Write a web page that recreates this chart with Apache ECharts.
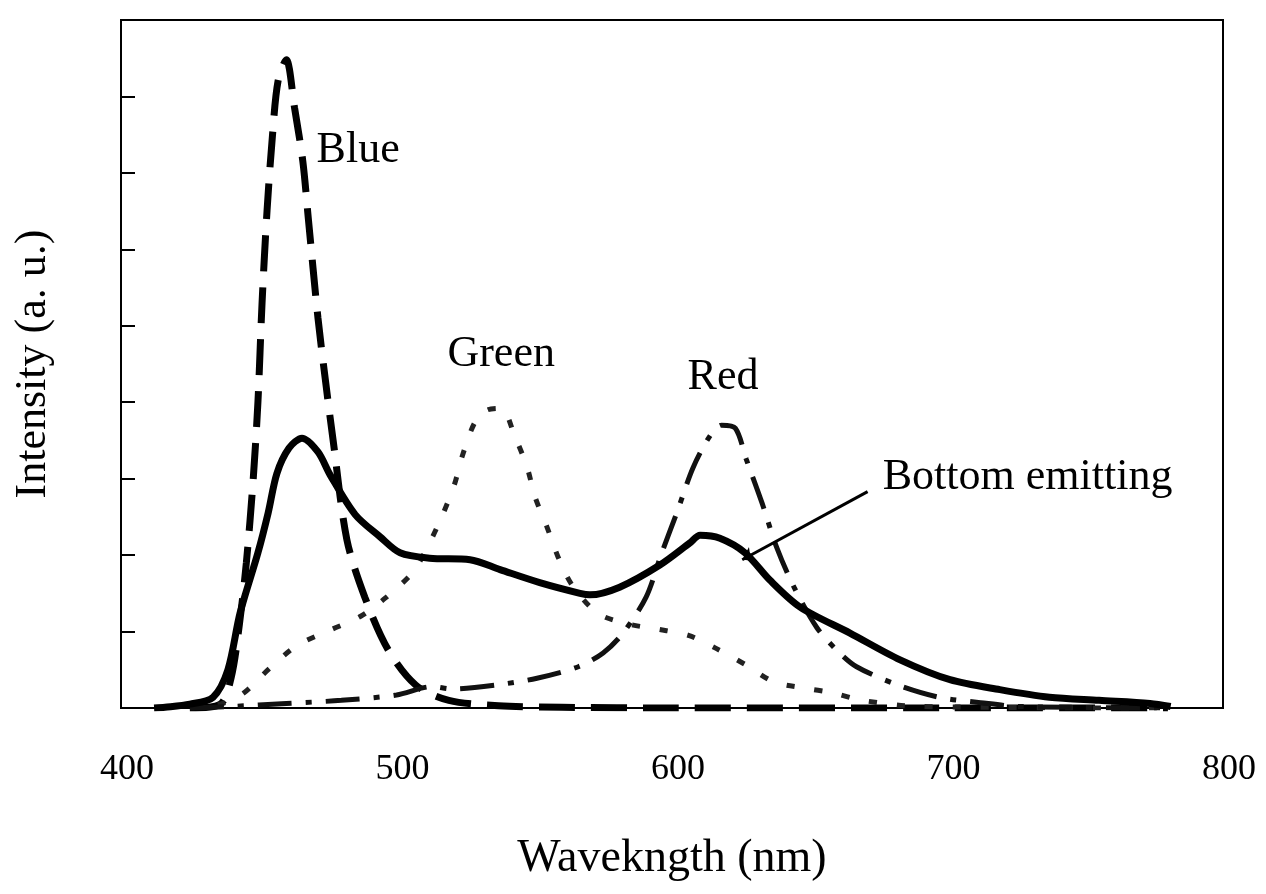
<!DOCTYPE html>
<html>
<head>
<meta charset="utf-8">
<script src="https://cdn.jsdelivr.net/npm/echarts@6/dist/echarts.min.js"></script>
<style>
  html, body { margin: 0; padding: 0; background: #fff; }
  #chart { width: 1266px; height: 894px; }
</style>
</head>
<body>
<div id="chart"></div>
<script>
// wavelength (nm) and intensity (a.u., one unit per y tick)
const blueWl = [425, 436, 440, 443, 445.5, 448, 449.7, 451.2, 453, 455, 457, 460, 463, 466, 468, 471.5, 474.5, 477, 482, 488.5, 497, 507, 519, 537, 560, 600, 700, 780];
const blueVal = [0, 0.05, 0.4, 1.1, 1.9, 3.0, 4.0, 5.3, 6.5, 7.5, 8.2, 8.48, 7.85, 7.15, 6.4, 5.1, 4.2, 3.5, 2.2, 1.45, 0.76, 0.3, 0.1, 0.03, 0.01, 0, 0, 0];

const greenWl = [425, 436, 444, 454, 464, 476, 487, 496, 506, 512, 517, 521, 524, 528.5, 533, 538, 543, 547.4, 550.3, 554.6, 558.6, 563.7, 573, 584, 595, 606, 616, 627, 637, 648, 658, 669, 690, 780];
const greenVal = [0, 0.05, 0.18, 0.52, 0.82, 1.02, 1.2, 1.44, 1.78, 2.16, 2.55, 2.92, 3.31, 3.74, 3.9, 3.92, 3.55, 3.15, 2.76, 2.37, 1.98, 1.61, 1.24, 1.1, 1.03, 0.95, 0.78, 0.56, 0.34, 0.26, 0.2, 0.1, 0.02, 0];

const redWl = [425, 440, 460, 480, 500, 513, 520, 536, 551, 566, 575, 582, 590.6, 596, 602, 607.6, 613.8, 618, 623, 627, 632.7, 638, 644.3, 652.6, 660, 667, 682, 697, 712, 726, 780];
const redVal = [0, 0.02, 0.06, 0.1, 0.17, 0.28, 0.25, 0.3, 0.39, 0.54, 0.72, 0.97, 1.45, 2.0, 2.58, 3.14, 3.56, 3.7, 3.66, 3.25, 2.68, 2.1, 1.58, 1.05, 0.75, 0.54, 0.3, 0.14, 0.07, 0.02, 0];

const bottomWl = [412, 416, 425, 433.4, 438.8, 443.2, 449.7, 453.4, 456.6, 461, 465.7, 471.5, 475.9, 485, 494, 501.3, 512, 526.7, 537.6, 552, 566.6, 570.2, 581, 595.6, 606.5, 610.2, 617.4, 626.5, 635.6, 646.5, 664.6, 682.8, 700.9, 719, 737, 755, 773.5, 781];
const bottomVal = [0, 0.01, 0.05, 0.14, 0.5, 1.24, 2.03, 2.55, 3.07, 3.4, 3.53, 3.35, 3.05, 2.53, 2.24, 2.03, 1.96, 1.94, 1.81, 1.64, 1.5, 1.48, 1.58, 1.87, 2.16, 2.26, 2.22, 2.03, 1.67, 1.32, 0.98, 0.63, 0.37, 0.24, 0.14, 0.1, 0.06, 0.02];

const xTicks = [400, 500, 600, 700, 800];

// text notes: label, wavelength, intensity, placement
const notes = [
  ["Blue", 471, 7.3, "right"],
  ["Green", 538, 4.62, "inside"],
  ["Red", 618.5, 4.32, "inside"],
  ["Bottom emitting", 676.5, 3.01, "right"],
];
const arrow = [[671, 2.83], [625.5, 1.94]];

const font = "'Liberation Serif', 'Times New Roman', serif";

function pairs(xs, ys) {
  return xs.map((x, i) => [x, ys[i]]);
}

var chart = echarts.init(document.getElementById("chart"));

var option = {
  backgroundColor: "#fff",
  animation: false,
  grid: {
    left: 121,
    right: 43,
    top: 20,
    bottom: 186,
    show: true,
    borderColor: "#000",
    borderWidth: 2,
  },
  xAxis: {
    type: "value",
    min: 400,
    max: 800,
    interval: 100,
    name: "Wavekngth (nm)",
    nameLocation: "middle",
    nameGap: 128,
    nameTextStyle: { fontFamily: font, fontSize: 46, color: "#000" },
    axisLine: { lineStyle: { color: "#000", width: 2 } },
    axisTick: { show: false },
    splitLine: { show: false },
    axisLabel: {
      customValues: xTicks,
      fontFamily: font,
      fontSize: 36,
      color: "#000",
      margin: 44,
      padding: [0, 0, 0, 12],
    },
  },
  yAxis: {
    type: "value",
    min: 0,
    max: 9,
    interval: 1,
    name: "Intensity (a. u.)",
    nameLocation: "middle",
    nameGap: 66,
    nameTextStyle: { fontFamily: font, fontSize: 44, color: "#000" },
    axisLine: { lineStyle: { color: "#000", width: 2 } },
    axisTick: { inside: true, length: 14, lineStyle: { color: "#000", width: 2 } },
    axisLabel: { show: false },
    splitLine: { show: false },
  },
  series: [
    {
      name: "Blue",
      type: "line",
      smooth: 0.3,
      symbol: "none",
      data: pairs(blueWl, blueVal),
      lineStyle: { color: "#000", width: 7, type: [36, 16] },
    },
    {
      name: "Green",
      type: "line",
      smooth: 0.3,
      symbol: "none",
      data: pairs(greenWl, greenVal),
      lineStyle: { color: "#222", width: 5, type: [8, 20] },
    },
    {
      name: "Red",
      type: "line",
      smooth: 0.3,
      symbol: "none",
      data: pairs(redWl, redVal),
      lineStyle: { color: "#111", width: 5, type: [34, 14, 6, 14] },
    },
    {
      name: "Bottom emitting",
      type: "line",
      smooth: 0.3,
      symbol: "none",
      data: pairs(bottomWl, bottomVal),
      lineStyle: { color: "#000", width: 7 },
      markLine: {
        silent: true,
        symbol: ["none", "arrow"],
        symbolSize: 12,
        label: { show: false },
        lineStyle: { color: "#000", width: 3, type: "solid" },
        data: [[{ coord: arrow[0] }, { coord: arrow[1] }]],
      },
      markPoint: {
        silent: true,
        symbol: "circle",
        symbolSize: 0,
        data: notes.map((n) => ({
          coord: [n[1], n[2]],
          label: {
            show: true,
            position: n[3],
            distance: 0,
            formatter: n[0],
            fontFamily: font,
            fontSize: 44,
            color: "#000",
          },
        })),
      },
    },
  ],
};

chart.setOption(option);
</script>
</body>
</html>
